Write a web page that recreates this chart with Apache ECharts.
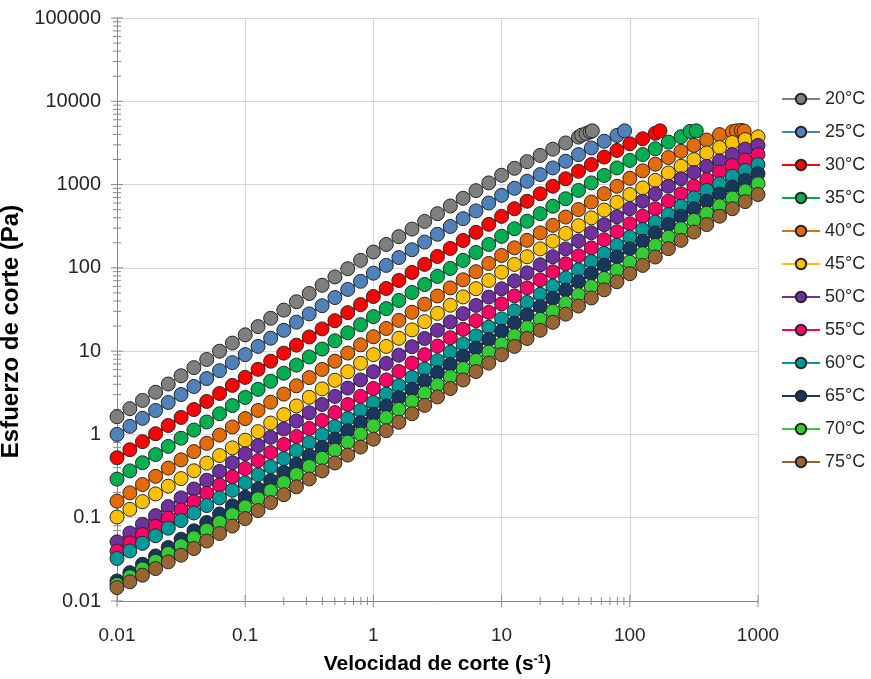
<!DOCTYPE html>
<html>
<head>
<meta charset="utf-8">
<script src="https://cdn.jsdelivr.net/npm/echarts@6/dist/echarts.min.js"></script>
<style>
  html, body { margin: 0; padding: 0; background: #ffffff; }
  #chart { width: 871px; height: 679px; }
</style>
</head>
<body>
<div id="chart"></div>
<script>
// Shear rates (s-1), log-spaced, 10 per decade
const rates = [
  0.01, 0.0126, 0.0158, 0.02, 0.0251, 0.0316, 0.0398, 0.0501, 0.0631, 0.0794,
  0.1, 0.126, 0.158, 0.2, 0.251, 0.316, 0.398, 0.501, 0.631, 0.794,
  1, 1.26, 1.58, 2, 2.51, 3.16, 3.98, 5.01, 6.31, 7.94,
  10, 12.6, 15.8, 20, 25.1, 31.6, 39.8, 50.1, 63.1, 79.4,
  100, 126, 158, 200, 251, 316, 398, 501, 631, 794,
  1000
];

const temperatures = ['20°C', '25°C', '30°C', '35°C', '40°C', '45°C', '50°C', '55°C', '60°C', '65°C', '70°C', '75°C'];

// Shear stress (Pa) at each rate above, one list per temperature
const stress20 = [
  1.63, 2.04, 2.56, 3.21, 4.03, 5.06, 6.34, 7.94, 9.98, 12.5,
  15.7, 19.7, 24.8, 31.1, 39.2, 49.2, 61.8, 77.8, 97.7, 123,
  155, 191, 237, 292, 361, 447, 553, 684, 845, 1047,
  1294, 1567, 1884, 2239, 2661, 3162, 3715
];
const stress25 = [
  1.00, 1.25, 1.56, 1.94, 2.42, 3.01, 3.76, 4.69, 5.83, 7.28,
  9.08, 11.4, 14.3, 17.8, 22.3, 28.0, 35.1, 44.0, 55.1, 68.9,
  86.3, 107, 133, 165, 204, 253, 314, 390, 483, 600,
  743, 902, 1096, 1318, 1585, 1905, 2291, 2754, 3311, 3890
];
const stress30 = [
  0.525, 0.655, 0.819, 1.02, 1.28, 1.60, 1.99, 2.49, 3.10, 3.88,
  4.84, 6.05, 7.57, 9.46, 11.8, 14.8, 18.5, 23.2, 29.0, 36.2,
  45.3, 56.5, 70.5, 88.1, 110, 137, 171, 213, 267, 333,
  415, 513, 631, 776, 955, 1175, 1445, 1738, 2138, 2570,
  3090, 3548, 4121
];
const stress35 = [
  0.291, 0.365, 0.457, 0.573, 0.718, 0.900, 1.13, 1.41, 1.77, 2.22,
  2.78, 3.48, 4.35, 5.43, 6.79, 8.51, 10.6, 13.3, 16.6, 20.8,
  26.0, 32.4, 40.6, 50.6, 63.1, 78.9, 98.4, 123, 153, 191,
  239, 295, 363, 447, 550, 676, 851, 1047, 1288, 1585,
  1950, 2291, 2692, 3236, 3758
];
const stress40 = [
  0.158, 0.199, 0.250, 0.314, 0.394, 0.495, 0.622, 0.782, 0.982, 1.23,
  1.55, 1.94, 2.44, 3.05, 3.84, 4.81, 6.03, 7.57, 9.48, 11.9,
  14.9, 18.7, 23.4, 29.3, 36.6, 45.9, 57.4, 71.9, 89.9, 113,
  141, 174, 214, 263, 324, 407, 501, 617, 776, 955,
  1189, 1462, 1758, 2113, 2512, 2951, 3428, 3981, 4315
];
const stress45 = [
  0.102, 0.126, 0.156, 0.193, 0.239, 0.295, 0.366, 0.452, 0.558, 0.690,
  0.853, 1.08, 1.37, 1.73, 2.20, 2.79, 3.52, 4.47, 5.66, 7.16,
  9.08, 11.4, 14.3, 18.0, 22.6, 28.4, 35.6, 44.8, 56.2, 70.6,
  88.7, 110, 136, 169, 209, 259, 321, 398, 494, 612,
  759, 912, 1122, 1380, 1660, 1995, 2399, 2786, 3199, 3467,
  3741
];
const stress50 = [
  0.0513, 0.0655, 0.0834, 0.106, 0.136, 0.173, 0.221, 0.282, 0.360, 0.458,
  0.585, 0.734, 0.921, 1.16, 1.45, 1.82, 2.29, 2.86, 3.60, 4.51,
  5.66, 7.13, 8.95, 11.3, 14.2, 17.8, 22.4, 28.2, 35.4, 44.6,
  56.0, 69.8, 87.1, 109, 136, 169, 211, 264, 330, 411,
  513, 631, 776, 955, 1175, 1396, 1660, 1928, 2291, 2661,
  2951
];
const stress55 = [
  0.0398, 0.0500, 0.0628, 0.0789, 0.0991, 0.124, 0.156, 0.196, 0.247, 0.310,
  0.389, 0.485, 0.605, 0.757, 0.944, 1.18, 1.47, 1.83, 2.29, 2.86,
  3.56, 4.51, 5.69, 7.19, 9.08, 11.5, 14.5, 18.3, 23.2, 29.2,
  37.0, 46.1, 57.5, 71.9, 89.7, 112, 140, 174, 218, 272,
  339, 417, 513, 631, 776, 955, 1148, 1413, 1698, 1972,
  2291
];
const stress60 = [
  0.0324, 0.0399, 0.0492, 0.0607, 0.0748, 0.0923, 0.114, 0.140, 0.173, 0.213,
  0.263, 0.328, 0.410, 0.512, 0.640, 0.798, 0.995, 1.24, 1.55, 1.94,
  2.42, 3.05, 3.85, 4.84, 6.10, 7.69, 9.68, 12.2, 15.3, 19.4,
  24.4, 30.5, 38.4, 48.1, 60.3, 75.7, 94.8, 119, 149, 187,
  234, 288, 355, 437, 550, 692, 851, 1023, 1259, 1479,
  1738
];
const stress65 = [
  0.0174, 0.0219, 0.0276, 0.0348, 0.0439, 0.0552, 0.0697, 0.0877, 0.111, 0.139,
  0.176, 0.221, 0.279, 0.351, 0.441, 0.555, 0.698, 0.879, 1.11, 1.39,
  1.75, 2.20, 2.77, 3.48, 4.39, 5.51, 6.92, 8.71, 10.9, 13.8,
  17.3, 21.7, 27.3, 34.4, 43.2, 54.2, 68.1, 85.5, 108, 135,
  170, 209, 263, 331, 417, 513, 631, 767, 933, 1122,
  1349
];
const stress70 = [
  0.0158, 0.0196, 0.0243, 0.0301, 0.0373, 0.0462, 0.0573, 0.0710, 0.0879, 0.109,
  0.135, 0.169, 0.211, 0.264, 0.330, 0.413, 0.518, 0.647, 0.809, 1.01,
  1.27, 1.59, 2.00, 2.50, 3.14, 3.94, 4.93, 6.19, 7.76, 9.75,
  12.2, 15.3, 19.2, 24.1, 30.2, 37.9, 47.5, 59.6, 74.6, 93.8,
  117, 148, 186, 234, 295, 372, 452, 556, 692, 841,
  1023
];
const stress75 = [
  0.0145, 0.0170, 0.0204, 0.0245, 0.0295, 0.0355, 0.0427, 0.0525, 0.0646, 0.0794,
  0.0977, 0.122, 0.152, 0.189, 0.235, 0.292, 0.365, 0.454, 0.565, 0.705,
  0.877, 1.11, 1.40, 1.77, 2.23, 2.82, 3.56, 4.51, 5.69, 7.19,
  9.08, 11.4, 14.2, 17.8, 22.2, 27.8, 34.8, 43.5, 54.5, 68.1,
  85.1, 107, 135, 170, 214, 269, 331, 417, 513, 624,
  759
];

// Last readings where the stress levels off near the torque limit: [rate, stress]
const tail20 = [[42, 3920], [45.6, 4090], [49, 4290], [51, 4420]];
const tail25 = [[91, 4420]];
const tail30 = [[172, 4420]];
const tail35 = [[295, 4350], [330, 4420]];
const tail40 = [[680, 4420], [740, 4470], [780, 4380]];

const stressSets = [stress20, stress25, stress30, stress35, stress40, stress45,
                    stress50, stress55, stress60, stress65, stress70, stress75];
const tails = [tail20, tail25, tail30, tail35, tail40, [], [], [], [], [], [], []];

const colors = ['#7f7f7f', '#4f81bd', '#ff0000', '#00b050', '#e36c09', '#ffc000',
                '#7030a0', '#ff0066', '#009999', '#17375e', '#33cc33', '#996633'];

// Axis tick labels
const xTickLabels = ['0.01', '0.1', '1', '10', '100', '1000'];
const yTickLabels = ['0.01', '0.1', '1', '10', '100', '1000', '10000', '100000'];

const FONT = "'Liberation Sans', Arial, sans-serif";

function decadeLabel(labels, firstExp) {
  return function (v) {
    const i = Math.round(Math.log10(v)) - firstExp;
    return labels[i] !== undefined ? labels[i] : '';
  };
}

// Tick marks crossing the axis lines (major and 2..9 minor ticks)
const tickMarks = [];
for (let e = -2; e <= 3; e++) {
  tickMarks.push([Math.pow(10, e), 0, 6]);
  if (e === -1 || e === 1) {
    for (let m = 2; m <= 9; m++) tickMarks.push([m * Math.pow(10, e), 0, 4]);
  }
}
for (let e = -2; e <= 5; e++) {
  tickMarks.push([Math.pow(10, e), 1, 6]);
  if (e < 5) {
    for (let m = 2; m <= 9; m++) tickMarks.push([m * Math.pow(10, e), 1, 4]);
  }
}

const series = temperatures.map(function (name, s) {
  const pts = stressSets[s].map(function (y, i) { return [rates[i], y]; }).concat(tails[s]);
  return {
    name: name,
    type: 'line',
    data: pts,
    symbol: 'circle',
    symbolSize: 14,
    showAllSymbol: true,
    itemStyle: { color: colors[s], borderColor: '#262626', borderWidth: 1 },
    lineStyle: { color: colors[s], width: s === 0 ? 1.5 : 3 },
    emphasis: { disabled: true },
    animation: false
  };
});

series.push({
  name: 'ticks',
  type: 'custom',
  silent: true,
  clip: false,
  animation: false,
  z: 1,
  data: tickMarks,
  renderItem: function (params, api) {
    const v = api.value(0), axis = api.value(1), len = api.value(2);
    if (axis === 0) {
      const p = api.coord([v, 0.01]);
      return { type: 'line', shape: { x1: p[0], y1: p[1] - len, x2: p[0], y2: p[1] + len },
               style: { stroke: '#898989', lineWidth: 1 } };
    }
    const p = api.coord([0.01, v]);
    return { type: 'line', shape: { x1: p[0] - len, y1: p[1], x2: p[0] + len, y2: p[1] },
             style: { stroke: '#898989', lineWidth: 1 } };
  }
});

const chart = echarts.init(document.getElementById('chart'), null, { renderer: 'canvas' });
chart.setOption({
  backgroundColor: '#ffffff',
  animation: false,
  grid: { left: 117, right: 113, top: 18, bottom: 78, containLabel: false, outerBoundsMode: 'none' },
  legend: {
    data: temperatures,
    orient: 'vertical',
    left: 776,
    top: 85,
    itemWidth: 38,
    itemHeight: 13,
    itemGap: 15,
    textStyle: { fontFamily: FONT, fontSize: 18, color: '#262626' },
    selectedMode: false
  },
  xAxis: {
    type: 'log',
    logBase: 10,
    min: 0.01,
    max: 1000,
    name: 'Velocidad de corte (s{sup|-1})',
    nameLocation: 'middle',
    nameGap: 53,
    nameTextStyle: {
      fontFamily: FONT, fontSize: 21, fontWeight: 'bold', color: '#000000',
      rich: { sup: { fontFamily: FONT, fontSize: 12, fontWeight: 'bold', color: '#000000', verticalAlign: 'top', padding: [0, 0, 9, 0] } }
    },
    axisLine: { lineStyle: { color: '#898989', width: 1 } },
    axisTick: { show: false },
    axisLabel: { margin: 25, fontFamily: FONT, fontSize: 19, color: '#262626', formatter: decadeLabel(xTickLabels, -2) },
    splitLine: { show: true, lineStyle: { color: '#cfd7e6', width: 1 } }
  },
  yAxis: {
    type: 'log',
    logBase: 10,
    min: 0.01,
    max: 100000,
    name: 'Esfuerzo de corte (Pa)',
    nameLocation: 'middle',
    nameGap: 82,
    nameTextStyle: { fontFamily: FONT, fontSize: 24, fontWeight: 'bold', color: '#000000', padding: [0, 44, 0, 0] },
    axisLine: { show: true, lineStyle: { color: '#898989', width: 1 } },
    axisTick: { show: false },
    axisLabel: { margin: 16, fontFamily: FONT, fontSize: 20, color: '#262626', formatter: decadeLabel(yTickLabels, -2) },
    splitLine: { show: true, lineStyle: { color: '#cfd7e6', width: 1 } }
  },
  series: series
});
</script>
</body>
</html>
